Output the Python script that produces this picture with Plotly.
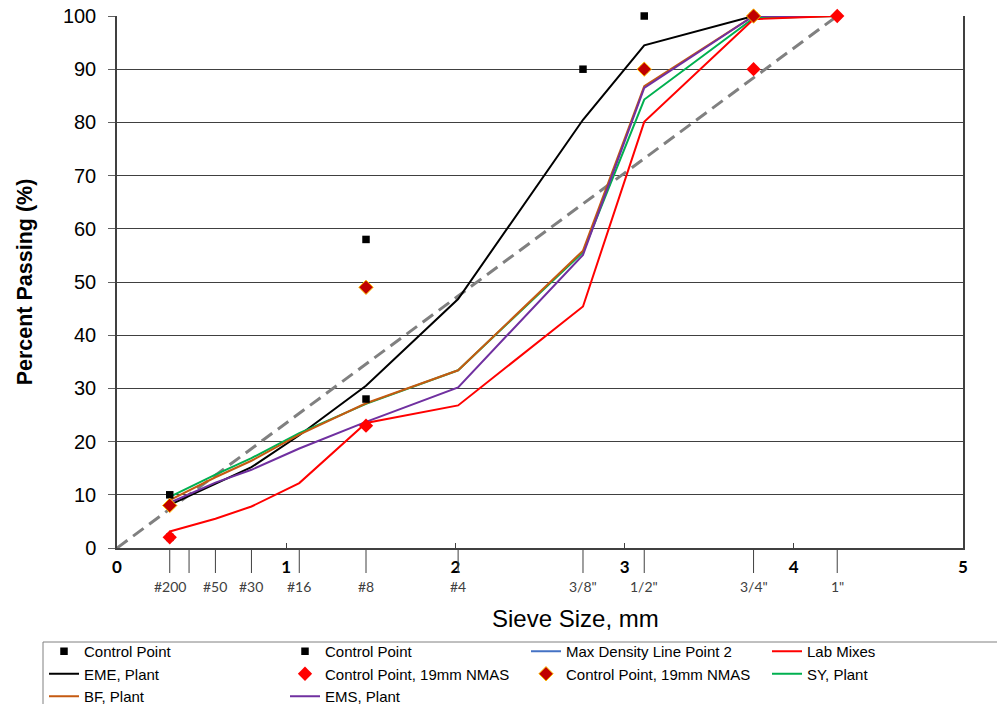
import plotly.graph_objects as go

# Sieve sizes (mm) and their labels; x axis is sieve size raised to the 0.45 power
sieve_labels = ['#200', '#100', '#50', '#30', '#16', '#8', '#4', '3/8"', '1/2"', '3/4"', '1"']
sieve_mm = [0.075, 0.15, 0.3, 0.6, 1.18, 2.36, 4.75, 9.5, 12.5, 19.0, 25.0]
labelled = ['#200', '#50', '#30', '#16', '#8', '#4', '3/8"', '1/2"', '3/4"', '1"']

def px(label):
    return sieve_mm[sieve_labels.index(label)] ** 0.45

# Gradation sieves used by the mix curves
mix_sieves = ['#200', '#50', '#30', '#16', '#8', '#4', '3/8"', '1/2"', '3/4"', '1"']
eme_plant = [8.1, 12.0, 15.2, 21.2, 30.5, 46.8, 80.5, 94.5, 100, 100]
sy_plant = [9.6, 13.8, 16.9, 21.6, 27.1, 33.4, 55.6, 84.3, 99.6, 100]
bf_plant = [9.0, 13.3, 16.4, 21.3, 27.2, 33.4, 55.9, 86.8, 100, 100]
ems_plant = [8.5, 12.3, 14.7, 18.7, 23.7, 30.2, 55.1, 86.5, 100, 100]
lab_mixes = [3.1, 5.5, 7.8, 12.2, 23.5, 26.8, 45.4, 80.1, 99.4, 100]

# Control points, 12.5 mm NMAS
cp_upper_sieves = ['#200', '#8', '3/8"', '1/2"', '3/4"']
cp_upper = [10, 58, 90, 100, 100]
cp_lower_sieves = ['#200', '#8', '1/2"', '3/4"']
cp_lower = [2, 28, 90, 100]

# Control points, 19 mm NMAS
cp19_lower_sieves = ['#200', '#8', '3/4"', '1"']
cp19_lower = [2, 23, 90, 100]
cp19_upper_sieves = ['#200', '#8', '1/2"', '3/4"']
cp19_upper = [8, 49, 90, 100]

# Maximum density line from origin to the 1" sieve
mdl_x = [0.0, px('1"')]
mdl_y = [0, 100]

# Plot-area geometry in pixels (used to place paper-referenced items)
W, H = 997, 704
L, R, T, B = 117, 34, 16, 156
PW, PH = W - L - R, H - T - B

def paper_x(p):
    return (p - L) / PW

def paper_y(p):
    return (H - B - p) / PH

fig = go.Figure()

fig.add_trace(go.Scatter(x=mdl_x, y=mdl_y, mode='lines', showlegend=False,
                         line=dict(color='#808080', width=3, dash='13px,7px')))

def curve(name, vals, color, rank):
    fig.add_trace(go.Scatter(x=[px(s) for s in mix_sieves], y=vals, mode='lines', name=name,
                             line=dict(color=color, width=2), legendrank=rank, cliponaxis=False))

curve('EME, Plant', eme_plant, '#000000', 5)
curve('SY, Plant', sy_plant, '#00B050', 8)
curve('BF, Plant', bf_plant, '#C55A11', 9)
curve('EMS, Plant', ems_plant, '#7030A0', 10)
curve('Lab Mixes', lab_mixes, '#FF0000', 4)

fig.add_trace(go.Scatter(x=[0], y=[0], mode='lines', name='Max Density Line Point 2',
                         line=dict(color='#4472C4', width=2), legendrank=3))

fig.add_trace(go.Scatter(x=[px(s) for s in cp_upper_sieves], y=cp_upper, mode='markers',
                         name='Control Point', legendrank=1, cliponaxis=False,
                         marker=dict(symbol='square', size=7.5, color='#000000')))
fig.add_trace(go.Scatter(x=[px(s) for s in cp_lower_sieves], y=cp_lower, mode='markers',
                         name='Control Point', legendrank=2, cliponaxis=False,
                         marker=dict(symbol='square', size=7.5, color='#000000')))
fig.add_trace(go.Scatter(x=[px(s) for s in cp19_lower_sieves], y=cp19_lower, mode='markers',
                         name='Control Point, 19mm NMAS', legendrank=6, cliponaxis=False,
                         marker=dict(symbol='diamond', size=11, color='#FF0000',
                                     line=dict(color='#FF0000', width=0))))
fig.add_trace(go.Scatter(x=[px(s) for s in cp19_upper_sieves], y=cp19_upper, mode='markers',
                         name='Control Point, 19mm NMAS', legendrank=7, cliponaxis=False,
                         marker=dict(symbol='diamond', size=11, color='#C00000',
                                     line=dict(color='#FFC000', width=1))))

# Sieve tick marks and labels below the axis
shapes = []
annotations = []
for lab in sieve_labels:
    shapes.append(dict(type='line', xref='x', yref='paper', x0=px(lab), x1=px(lab),
                       y0=0, y1=paper_y(573), line=dict(color='#404040', width=1)))
for lab in labelled:
    annotations.append(dict(x=px(lab), y=paper_y(586), xref='x', yref='paper', text=lab,
                            showarrow=False, yanchor='middle', xanchor='center',
                            font=dict(family='Lato, Open Sans, sans-serif', size=14,
                                      color='#404040')))

# Axis title for the sieve axis
annotations.append(dict(x=paper_x(575), y=paper_y(618), xref='paper', yref='paper',
                        text='Sieve Size, mm', showarrow=False,
                        yanchor='middle', xanchor='center',
                        font=dict(family='Arial, Liberation Sans, sans-serif', size=24,
                                  color='#000000')))

# Legend frame
shapes.append(dict(type='rect', xref='paper', yref='paper',
                   x0=paper_x(43), x1=paper_x(1005), y0=paper_y(642), y1=paper_y(712),
                   line=dict(color='#808080', width=1), fillcolor='rgba(0,0,0,0)'))

fig.update_layout(
    width=W, height=H,
    margin=dict(l=L, r=R, t=T, b=B, autoexpand=False),
    paper_bgcolor='white', plot_bgcolor='white',
    font=dict(family='Arial, Liberation Sans, sans-serif', color='#000000'),
    shapes=shapes, annotations=annotations,
    legend=dict(orientation='h', x=paper_x(44), y=paper_y(635), xanchor='left', yanchor='top',
                borderwidth=0, bgcolor='rgba(0,0,0,0)',
                entrywidth=196, entrywidthmode='pixels',
                font=dict(size=15, family='Arial, Liberation Sans, sans-serif', color='#000000'),
                itemwidth=30, tracegroupgap=0),
    xaxis=dict(range=[0, 5], tickvals=[0, 1, 2, 3, 4, 5],
               ticktext=['<b>%d</b>' % v for v in [0, 1, 2, 3, 4, 5]],
               ticks='inside', ticklen=5, tickcolor='#404040',
               tickfont=dict(family='Lato, Open Sans, sans-serif', size=17, color='#000000'),
               ticklabelstandoff=3,
               showgrid=False, zeroline=False, showline=True, linecolor='#404040',
               linewidth=1.5),
    yaxis=dict(range=[0, 100], dtick=10, showgrid=True, gridcolor='#404040', gridwidth=1,
               zeroline=False, showline=True, linecolor='#404040', linewidth=1.5, mirror=True,
               ticks='outside', ticklen=7, tickcolor='#606060', ticklabelstandoff=8,
               tickfont=dict(size=20, color='#000000'),
               title=dict(text='<b>Percent Passing (%)</b>', font=dict(size=21.5), standoff=24)),
)

fig.write_html('out.html')
